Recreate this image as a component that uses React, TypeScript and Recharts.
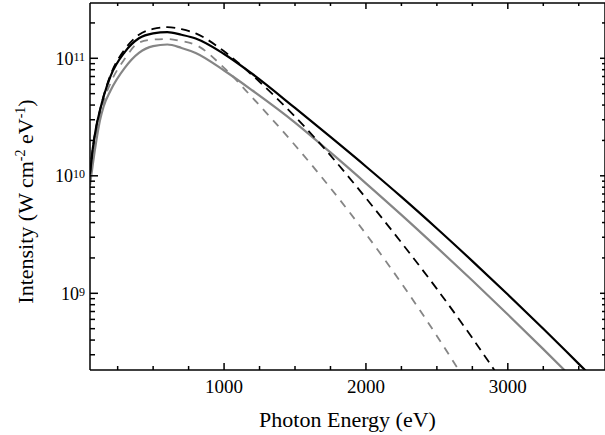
import * as React from 'react';
import { LineChart, Line, XAxis, YAxis, Label } from 'recharts';

// photon energy grid (eV) the curves were read at
const energy = [55, 75, 100, 125, 150, 200, 300, 400, 500, 600, 700, 800, 1000, 1200, 1500, 1750, 2000, 2250, 2500, 2750, 3000, 3250, 3500, 3700];

// intensities (W cm^-2 eV^-1)
const blackSolid = [1.035e10, 1.72e10, 2.65e10, 3.59e10, 4.68e10, 7.06e10, 1.13e11, 1.48e11, 1.63e11, 1.67e11, 1.585e11, 1.475e11, 1.089e11, 7.35e10, 3.78e10, 2.14e10, 1.2e10, 6.61e9, 3.56e9, 1.88e9, 9.77e8, 4.99e8, 2.51e8, 1.45e8];
const blackDashed = [1.035e10, 1.72e10, 2.65e10, 3.61e10, 4.73e10, 7.24e10, 1.19e11, 1.585e11, 1.78e11, 1.84e11, 1.77e11, 1.63e11, 1.146e11, 7.16e10, 3.19e10, 1.49e10, 6.46e9, 2.7e9, 1.09e9, 4.16e8, 1.5e8, null, null, null];
const graySolid = [8.32e9, 1.26e10, 2.0e10, 2.95e10, 3.85e10, 5.31e10, 8.28e10, 1.11e11, 1.27e11, 1.31e11, 1.225e11, 1.11e11, 7.87e10, 5.32e10, 2.84e10, 1.58e10, 8.63e9, 4.65e9, 2.46e9, 1.285e9, 6.61e8, 3.35e8, 1.68e8, null];
const grayDashed = [9.33e9, 1.48e10, 2.29e10, 3.24e10, 4.27e10, 6.17e10, 9.9e10, 1.36e11, 1.445e11, 1.46e11, 1.4e11, 1.3e11, 8.3e10, 4.62e10, 1.82e10, 7.87e9, 3.2e9, 1.22e9, 4.34e8, 1.45e8, null, null, null, null];

const xTicks = [250, 500, 750, 1000, 1250, 1500, 1750, 2000, 2250, 2500, 2750, 3000, 3250, 3500];
const yTicks = [
  3e8, 4e8, 5e8, 6e8, 7e8, 8e8, 9e8,
  1e9, 2e9, 3e9, 4e9, 5e9, 6e9, 7e9, 8e9, 9e9,
  1e10, 2e10, 3e10, 4e10, 5e10, 6e10, 7e10, 8e10, 9e10,
  1e11, 2e11,
];

const xDomain = [55, 3685];
const yDomain = [2.225e8, 2.955e11];

const serif = { fontFamily: 'Liberation Serif, Times New Roman, serif' };
const GRAY = '#858585';

const rows = energy.map((e, i) => ({
  E: e,
  bs: blackSolid[i],
  bd: blackDashed[i],
  gs: graySolid[i],
  gd: grayDashed[i],
}));

const isDecade = (v: number) => Math.abs(Math.log10(v) - Math.round(Math.log10(v))) < 1e-6;

const LeftTick = (props: any) => {
  const { x, y, payload } = props;
  const major = isDecade(payload.value);
  return (
    <g>
      <path d={`M${x},${y}h${major ? 8 : 5}`} stroke="#000" strokeWidth={1.5} fill="none" />
      {major && (
        <text x={x - 5} y={y + 6.5} textAnchor="end" style={serif} fontSize={18} fill="#000">
          10<tspan dy={-4} fontSize={12}>{Math.round(Math.log10(payload.value))}</tspan>
        </text>
      )}
    </g>
  );
};

const RightTick = (props: any) => {
  const { x, y, payload } = props;
  const major = isDecade(payload.value);
  return <path d={`M${x},${y}h${major ? -5 : -3}`} stroke="#000" strokeWidth={1.5} fill="none" />;
};

const BottomTick = (props: any) => {
  const { x, y, payload } = props;
  const major = payload.value % 1000 === 0;
  return (
    <g>
      <path d={`M${x},${y}v${major ? -7 : -4}`} stroke="#000" strokeWidth={1.5} fill="none" />
      {major && (
        <text x={x} y={y + 23} textAnchor="middle" style={serif} fontSize={19} fill="#000">
          {payload.value}
        </text>
      )}
    </g>
  );
};

const TopTick = (props: any) => {
  const { x, y, payload } = props;
  const major = payload.value % 1000 === 0;
  return <path d={`M${x},${y}v${major ? 6 : 3}`} stroke="#000" strokeWidth={1.5} fill="none" />;
};

const YTitle = ({ viewBox }: any) => {
  const cx = 33;
  const cy = viewBox.y + viewBox.height / 2 + 15;
  return (
    <text x={cx} y={cy} transform={`rotate(-90, ${cx}, ${cy})`} textAnchor="middle" style={serif} fontSize={22} fill="#000">
      Intensity (W cm<tspan dy={-8} fontSize={14}>-2</tspan>
      <tspan dy={8}> eV</tspan>
      <tspan dy={-8} fontSize={14}>-1</tspan>
      <tspan dy={8}>)</tspan>
    </text>
  );
};

const XTitle = ({ viewBox }: any) => (
  <text x={viewBox.x + viewBox.width / 2} y={427} textAnchor="middle" style={serif} fontSize={22} fill="#000">
    Photon Energy (eV)
  </text>
);

export default function App() {
  return (
    <div style={{ position: 'absolute', left: 0, top: 0, width: 605, height: 435, overflow: 'hidden', background: '#fff' }}>
      <LineChart width={615} height={435} data={rows} margin={{ top: 0, right: 0, bottom: 0, left: 0 }}>
        <XAxis
          dataKey="E"
          type="number"
          domain={xDomain}
          allowDataOverflow
          ticks={xTicks}
          interval={0}
          height={65}
          tickSize={0}
          tickMargin={0}
          tickLine={false}
          tick={<BottomTick />}
          axisLine={{ stroke: '#000', strokeWidth: 1.5 }}
        >
          <Label content={<XTitle />} />
        </XAxis>
        <XAxis
          xAxisId="top"
          dataKey="E"
          type="number"
          orientation="top"
          domain={xDomain}
          allowDataOverflow
          ticks={xTicks}
          interval={0}
          height={3}
          tickSize={0}
          tickMargin={0}
          tickLine={false}
          tick={<TopTick />}
          axisLine={{ stroke: '#000', strokeWidth: 1.5 }}
        />
        <YAxis
          scale="log"
          type="number"
          domain={yDomain}
          allowDataOverflow
          ticks={yTicks}
          interval={0}
          width={90}
          tickSize={0}
          tickMargin={0}
          tickLine={false}
          tick={<LeftTick />}
          axisLine={{ stroke: '#000', strokeWidth: 1.5 }}
        >
          <Label content={<YTitle />} />
        </YAxis>
        <YAxis
          yAxisId="right"
          orientation="right"
          scale="log"
          type="number"
          domain={yDomain}
          allowDataOverflow
          ticks={yTicks}
          interval={0}
          width={10}
          tickSize={0}
          tickMargin={0}
          tickLine={false}
          tick={<RightTick />}
          axisLine={{ stroke: '#000', strokeWidth: 1.5 }}
        />
        <Line type="monotone" dataKey="gd" stroke={GRAY} strokeWidth={1.8} strokeDasharray="8 7" dot={false} isAnimationActive={false} />
        <Line type="monotone" dataKey="gs" stroke={GRAY} strokeWidth={2.2} dot={false} isAnimationActive={false} />
        <Line type="monotone" dataKey="bd" stroke="#000" strokeWidth={1.8} strokeDasharray="9 6" dot={false} isAnimationActive={false} />
        <Line type="monotone" dataKey="bs" stroke="#000" strokeWidth={2.2} dot={false} isAnimationActive={false} />
      </LineChart>
    </div>
  );
}
